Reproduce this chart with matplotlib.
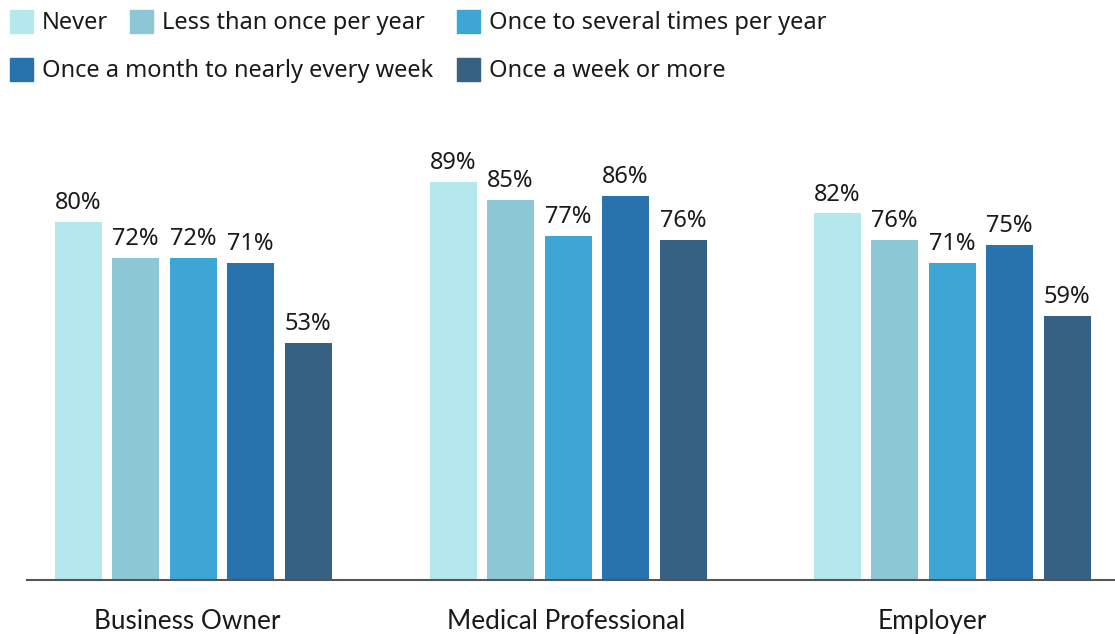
#!/usr/bin/env python3

import numpy as np
import matplotlib
matplotlib.use("Agg")
import matplotlib.pyplot as plt
from matplotlib.patches import Rectangle

categories = ["Business Owner", "Medical Professional", "Employer"]
series = ["Never", "Less than once per year", "Once to several times per year",
          "Once a month to nearly every week", "Once a week or more"]
never = [80, 89, 82]
less_than_yearly = [72, 85, 76]
several_yearly = [72, 77, 71]
monthly = [71, 86, 75]
weekly = [53, 76, 59]
colors = ["#b5e7ee", "#8cc7d5", "#3ea6d5", "#2873ae", "#366183"]


def main():
    plt.rcParams['font.family'] = ['Noto Sans', 'DejaVu Sans']

    W, H = 1115, 634
    fig = plt.figure(figsize=(11.15, 6.34), dpi=100)
    ax = fig.add_axes([27 / W, 1 - 580 / H, 1 - 27 / W, 480 / H])

    values = [never, less_than_yearly, several_yearly, monthly, weekly]
    # group centres in axis units (pixels from figure left)
    x = np.array([193, 568, 952])
    pitch = 57.5
    width = 47
    for i, vals in enumerate(values):
        bars = ax.bar(x + (i - 2) * pitch, vals, width, color=colors[i], label=series[i])
        ax.bar_label(bars, labels=[f"{v}%" for v in vals], padding=5,
                     fontsize=17, color="#1a1a1a")

    ax.set_xlim(27, W)
    ax.set_ylim(0, 480 / 4.47)
    for side in ["top", "right", "left"]:
        ax.spines[side].set_visible(False)
    ax.spines["bottom"].set_color("#555555")
    ax.spines["bottom"].set_linewidth(1.5)
    ax.set_yticks([])
    ax.set_xticks([187, 566, 932])
    ax.set_xticklabels(categories, fontsize=18.8, family="Lato", color="#1a1a1a")
    ax.tick_params(axis="x", length=0, pad=21)

    # legend laid out like the original (flowing rows)
    legend_items = [(0, 10, 21), (1, 130, 21), (2, 457, 21), (3, 10, 69), (4, 457, 69)]
    for idx, px, py in legend_items:
        fig.patches.append(Rectangle((px / W, 1 - (py + 11.5) / H), 23 / W, 23 / H,
                                     transform=fig.transFigure, color=colors[idx]))
        fig.text((px + 32) / W, 1 - (py + 2) / H, series[idx], fontsize=17,
                 va="center", ha="left", color="#1a1a1a")

    fig.savefig("out.png", dpi=100)


if __name__ == '__main__':
    main()
